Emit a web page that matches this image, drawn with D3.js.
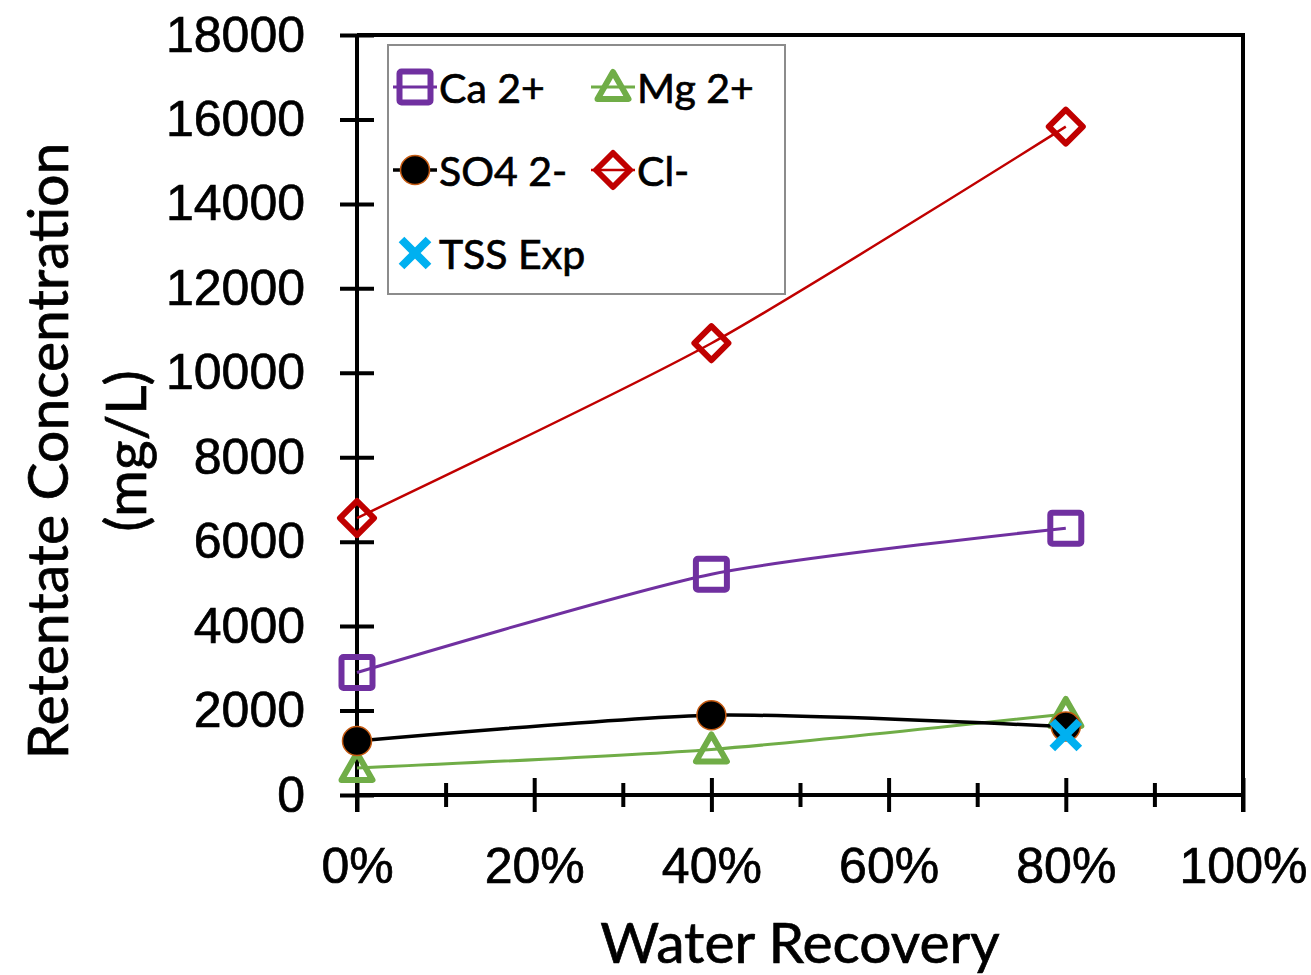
<!DOCTYPE html>
<html>
<head>
<meta charset="utf-8">
<script src="https://cdn.jsdelivr.net/npm/d3@7"></script>
<style>
  html, body { margin: 0; padding: 0; background: #fff; }
  svg { display: block; font-family: Lato, "Open Sans", sans-serif; }
  svg text { fill: #000; stroke: #000; stroke-width: 0.7px; }
  .axis path { display: none; }
  .axis line { stroke: #000; stroke-width: 4; }
  .axis text { font-size: 50px; }
</style>
</head>
<body>
<svg width="1311" height="975"></svg>
<script>
// data
const recovery = [0, 0.4, 0.8];
const ca = [2900, 5230, 6320];
const mg = [640, 1080, 1920];
const so4 = [1280, 1890, 1620];
const cl = [6560, 10700, 15830];
const tssRecovery = [0.8];
const tss = [1420];

const xMajor = [0, 0.2, 0.4, 0.6, 0.8, 1];
const xMinor = [0.1, 0.3, 0.5, 0.7, 0.9];
const yTicks = d3.range(0, 18001, 2000);

const series = [
    { name: 'Ca 2+', xs: recovery, ys: ca, color: '#7030A0', width: 3, marker: 'square', line: true },
    { name: 'Mg 2+', xs: recovery, ys: mg, color: '#70AD47', width: 3, marker: 'triangle', line: true },
    { name: 'SO4 2-', xs: recovery, ys: so4, color: '#000', width: 3.5, marker: 'circle', line: true },
    { name: 'Cl-', xs: recovery, ys: cl, color: '#C00000', width: 2.5, marker: 'diamond', line: true },
    { name: 'TSS Exp', xs: tssRecovery, ys: tss, color: '#00B0F0', width: 0, marker: 'cross', line: false }
];

var svg = d3.select("svg");
const plotLeft = 357, plotRight = 1243, plotTop = 35, plotBottom = 795;

var x = d3.scaleLinear().domain([0, 1]).range([plotLeft, plotRight]);
var y = d3.scaleLinear().domain([0, 18000]).range([plotBottom, plotTop]);

// frame (top and right sides)
svg.append("path")
    .attr("d", `M${plotLeft},${plotTop}H${plotRight}V${plotBottom + 17}`)
    .attr("fill", "none")
    .attr("stroke", "#000")
    .attr("stroke-width", 4);

// y axis
var gY = svg.append("g")
    .attr("class", "axis")
    .attr("transform", `translate(${plotLeft},0)`)
    .call(d3.axisLeft(y).tickValues(yTicks).tickSize(17).tickPadding(35).tickFormat(d3.format("d")));
gY.selectAll(".tick line").attr("x2", -17).attr("x1", 17);
gY.append("line").attr("x1", 0).attr("x2", 0).attr("y1", plotTop).attr("y2", plotBottom + 17);

// x axis
var gX = svg.append("g")
    .attr("class", "axis")
    .attr("transform", `translate(0,${plotBottom})`)
    .call(d3.axisBottom(x).tickValues(xMajor).tickSize(17).tickPadding(35).tickFormat(d3.format(".0%")));
gX.selectAll(".tick line").attr("y1", -17);
gX.append("line").attr("x1", plotLeft).attr("x2", plotRight).attr("y1", 0).attr("y2", 0);

var gXm = svg.append("g")
    .attr("class", "axis")
    .attr("transform", `translate(0,${plotBottom})`)
    .call(d3.axisBottom(x).tickValues(xMinor).tickSize(12).tickFormat(""));
gXm.selectAll(".tick line").attr("y1", -12);

// axis titles
svg.append("text")
    .attr("x", (plotLeft + plotRight) / 2)
    .attr("y", 941)
    .attr("text-anchor", "middle")
    .attr("dominant-baseline", "central")
    .attr("font-size", 57)
    .text("Water Recovery");

var yt = svg.append("text")
    .attr("transform", "translate(46,451) rotate(-90)")
    .attr("text-anchor", "middle")
    .attr("dominant-baseline", "central")
    .attr("font-size", 57);
yt.append("tspan").attr("x", 0).attr("y", 0).text("Retentate Concentration");
yt.append("tspan").attr("x", 0).attr("y", 78).text("(mg/L)");

// marker drawing
function drawMarker(g, type, color) {
    if (type === 'square') {
        g.append("rect").attr("x", -15.5).attr("y", -15.5).attr("width", 31).attr("height", 31)
            .attr("rx", 2).attr("fill", "none").attr("stroke", color).attr("stroke-width", 6);
    } else if (type === 'triangle') {
        g.append("path").attr("d", "M0,-15L15.5,12L-15.5,12Z")
            .attr("fill", "none").attr("stroke", color).attr("stroke-width", 6).attr("stroke-linejoin", "round");
    } else if (type === 'diamond') {
        g.append("path").attr("d", "M0,-17L17,0L0,17L-17,0Z")
            .attr("fill", "none").attr("stroke", color).attr("stroke-width", 6).attr("stroke-linejoin", "round");
    } else if (type === 'circle') {
        g.append("circle").attr("r", 14.5).attr("fill", "#000").attr("stroke", "#C55A11").attr("stroke-width", 1.5);
    } else if (type === 'cross') {
        g.append("path").attr("d", "M-13.5,-13.5L13.5,13.5M13.5,-13.5L-13.5,13.5")
            .attr("stroke", color).attr("stroke-width", 8);
    }
}

var line = d3.line()
    .x(d => x(d[0]))
    .y(d => y(d[1]))
    .curve(d3.curveCardinal.tension(0.3));

series.forEach(s => {
    const pts = s.xs.map((v, i) => [v, s.ys[i]]);
    const g = svg.append("g");
    if (s.line) {
        g.append("path")
            .datum(pts)
            .attr("d", line)
            .attr("fill", "none")
            .attr("stroke", s.color)
            .attr("stroke-width", s.width);
    }
    g.selectAll("g.pt")
        .data(pts)
        .join("g")
        .attr("class", "pt")
        .attr("transform", d => `translate(${x(d[0])},${y(d[1])})`)
        .each(function() { drawMarker(d3.select(this), s.marker, s.color); });
});

// legend
var legend = svg.append("g");
legend.append("rect")
    .attr("x", 388).attr("y", 45).attr("width", 397).attr("height", 249)
    .attr("fill", "#fff").attr("stroke", "#8c8c8c").attr("stroke-width", 2);

const legendPos = [[415, 87], [613, 87], [415, 170], [613, 170], [415, 253]];
series.forEach((s, i) => {
    const [lx, ly] = legendPos[i];
    const item = legend.append("g").attr("transform", `translate(${lx},${ly})`);
    if (s.line) {
        item.append("line").attr("x1", -22).attr("x2", 22)
            .attr("stroke", s.color).attr("stroke-width", s.width);
    }
    drawMarker(item, s.marker, s.color);
    item.append("text")
        .attr("x", 24)
        .attr("dominant-baseline", "central")
        .attr("font-size", 41)
        .text(s.name);
});
</script>
</body>
</html>
